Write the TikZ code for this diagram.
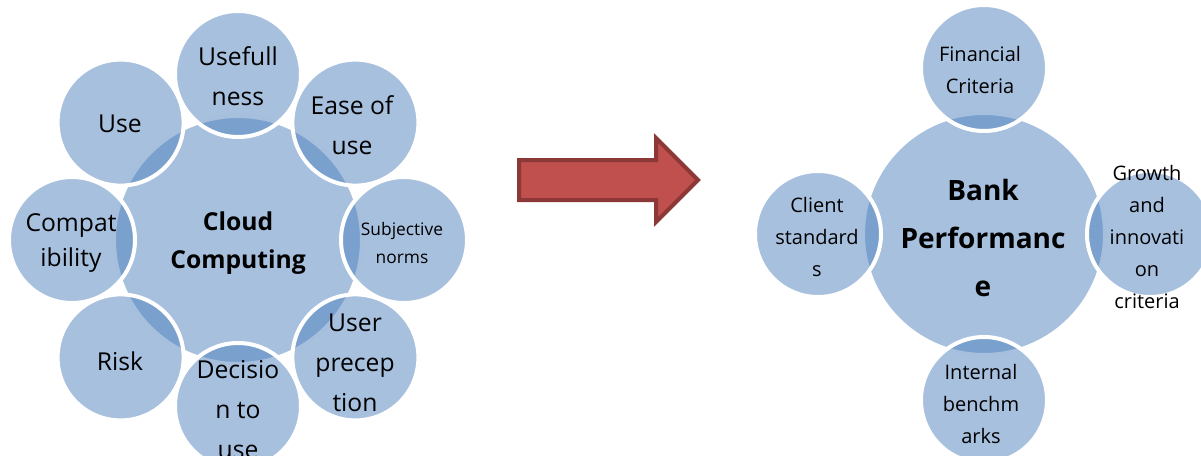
\documentclass[tikz,border=0pt]{standalone}
\usepackage{fontspec}
\setmainfont{Open Sans}
\definecolor{acc}{HTML}{4F81BD}
\definecolor{arrfill}{HTML}{C0504D}
\definecolor{arrline}{HTML}{8C3836}
\tikzset{
  bubble/.style={circle, fill=acc, fill opacity=0.5, draw=white, line width=3pt, inner sep=0pt, minimum size=94.5pt},
  hubleft/.style={bubble, minimum size=186pt},
  hubright/.style={bubble, minimum size=181.5pt},
  lbl/.style={align=center, inner sep=0pt, text=black, font=\fontsize{18.5}{30}\selectfont},
  lblsmall/.style={lbl, font=\fontsize{13}{21}\selectfont},
  lblright/.style={lbl, font=\fontsize{15}{24}\selectfont},
  lblbold/.style={lbl, font=\bfseries\fontsize{18.5}{28}\selectfont},
  lblbank/.style={lbl, font=\bfseries\fontsize{21}{36}\selectfont},
  bigarrow/.style={fill=arrfill, draw=arrline, line width=3pt, line join=miter}
}
\begin{document}
\begin{tikzpicture}[x=0.75pt, y=-0.75pt]
\useasboundingbox (0,0) rectangle (1201,456);
\clip (0,0) rectangle (1201,456);

% ---------- left diagram ----------
\node[hubleft] (cc) at (238,240) {};
\node[bubble] (useful) at (238,74) {};
\node[bubble] (use) at (120.6,122.6) {};
\node[bubble] (compat) at (72,240) {};
\node[bubble] (risk) at (120.6,357.4) {};
\node[bubble] (decision) at (238,406) {};
\node[bubble] (userp) at (355.4,357.4) {};
\node[bubble] (subj) at (404,240) {};
\node[bubble] (ease) at (355.4,122.6) {};

\node[lblbold] (tcc) at (238,243) {Cloud\\Computing};
\node[lbl] (tuseful) at (238,76) {Usefull\\ness};
\node[lbl] (tuse) at (120,124) {Use};
\node[lbl, font=\fontsize{18.5}{26}\selectfont] (tcompat) at (71,243) {Compat\\ibility};
\node[lbl] (trisk) at (120,361) {Risk};
\node[lbl] (tdecision) at (238,410) {Decisio\\n to\\use};
\node[lbl] (tuserp) at (355,363) {User\\precep\\tion};
\node[lblsmall] (tsubj) at (402,243) {Subjective\\norms};
\node[lbl] (tease) at (352,125) {Ease of\\use};

% ---------- arrow ----------
\draw[bigarrow] (519,160) -- (656,160) -- (656,138) -- (698,180) -- (656,222) -- (656,200) -- (519,200) -- cycle;

% ---------- right diagram ----------
\node[hubright] (bank) at (984,234) {};
\node[bubble] (fin) at (984,68) {};
\node[bubble] (client) at (818,234) {};
\node[bubble] (growth) at (1150,234) {};
\node[bubble] (internal) at (984,400) {};

\node[lblbank] (tbank) at (983,238) {Bank\\Performanc\\e};
\node[lblright] (tfin) at (980,70) {Financial\\Criteria};
\node[lblright] (tclient) at (817,237) {Client\\standard\\s};
\node[lblright] (tgrowth) at (1147,237) {Growth\\and\\innovati\\on\\criteria};
\node[lblright] (tinternal) at (981,404) {Internal\\benchm\\arks};
\end{tikzpicture}
\end{document}
